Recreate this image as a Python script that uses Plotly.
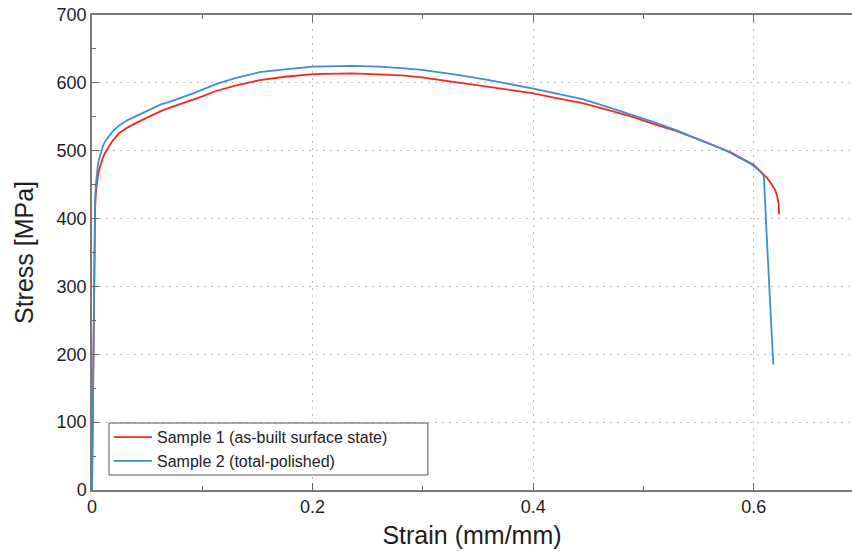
import plotly.graph_objects as go

# Engineering stress-strain data for two tensile specimens
strain_s1 = [0.0, 0.0008, 0.0016, 0.0022, 0.0028, 0.0035, 0.0045, 0.0055, 0.0068, 0.008,
             0.0095, 0.0115, 0.014, 0.018, 0.0244, 0.032, 0.04, 0.0475, 0.0548, 0.062,
             0.07, 0.0775, 0.085, 0.0925, 0.10, 0.1124, 0.13, 0.1519, 0.175, 0.20,
             0.235, 0.26, 0.2807, 0.299, 0.33, 0.35, 0.375, 0.399, 0.42, 0.4447,
             0.47, 0.49, 0.508, 0.53, 0.554, 0.58, 0.60, 0.6085, 0.612, 0.6155,
             0.619, 0.621, 0.6225, 0.623]
stress_s1 = [0, 150, 300, 380, 415, 438, 455, 465, 474, 481,
             488, 496, 503, 513, 526, 534, 541, 547, 553, 558,
             563, 567, 571, 575, 580, 588, 596, 604, 609, 613,
             614, 612.5, 611, 608, 601, 596, 591, 585, 578, 570,
             559, 550, 540, 529, 514, 497, 479, 466, 460, 452,
             443, 434, 422, 406]

strain_s2 = [0.0, 0.0008, 0.0016, 0.0022, 0.0028, 0.0035, 0.0045, 0.0055, 0.0068, 0.0084,
             0.010, 0.012, 0.015, 0.019, 0.0244, 0.032, 0.04, 0.0475, 0.0548, 0.062,
             0.07, 0.0775, 0.085, 0.0925, 0.10, 0.1124, 0.13, 0.1519, 0.175, 0.2004,
             0.2353, 0.26, 0.2807, 0.299, 0.33, 0.36, 0.399, 0.42, 0.4447, 0.47,
             0.49, 0.508, 0.53, 0.554, 0.575, 0.597, 0.604, 0.609, 0.6105, 0.6116,
             0.614, 0.6177]
stress_s2 = [0, 150, 300, 385, 425, 450, 470, 481, 490, 500,
             507, 514, 521, 529, 537, 545, 551, 557, 563, 568,
             572, 576, 580, 585, 590, 598, 607, 615.7, 620, 624,
             625, 624, 621.6, 619, 612, 604, 592, 585, 576, 563,
             553, 543, 530, 514, 500, 481, 472, 463, 420, 369,
             300, 185]

x_ticks = [0, 0.2, 0.4, 0.6]
x_tick_text = ["0", "0.2", "0.4", "0.6"]
y_ticks = [0, 100, 200, 300, 400, 500, 600, 700]

RED = "#f5291c"
BLUE = "#3d8fcf"
FONT = "Liberation Sans, Arial, sans-serif"

fig = go.Figure()
fig.add_trace(go.Scatter(x=strain_s1, y=stress_s1, mode="lines",
                         name="Sample 1 (as-built surface state)",
                         line=dict(color=RED, width=1.8)))
fig.add_trace(go.Scatter(x=strain_s2, y=stress_s2, mode="lines",
                         name="Sample 2 (total-polished)",
                         line=dict(color=BLUE, width=1.8)))

axis_common = dict(
    showline=True, linecolor="#7a7a7a", linewidth=1.5,
    showgrid=True, gridcolor="#c0c0c0", gridwidth=1, griddash="2px,5px",
    ticks="inside", ticklen=7, tickcolor="#666", tickwidth=1.2,
    tickfont=dict(family=FONT, size=18, color="#1e1e1e"),
    zeroline=False,
)

fig.update_xaxes(
    range=[0, 0.689], tickvals=x_ticks, ticktext=x_tick_text,
    mirror="ticks",
    minor=dict(dtick=0.1, tick0=0, ticks="inside", ticklen=4, tickcolor="#666", showgrid=False),
    title=dict(text="Strain (mm/mm)", font=dict(family=FONT, size=25, color="#1e1e1e"), standoff=10),
    **axis_common,
)
fig.update_yaxes(
    range=[0, 700], tickvals=y_ticks,
    minor=dict(dtick=50, tick0=0, ticks="inside", ticklen=4, tickcolor="#666", showgrid=False),
    title=dict(text="Stress [MPa]", font=dict(family=FONT, size=25, color="#1e1e1e"), standoff=16),
    **axis_common,
)

# Legend frame: a white box drawn behind the (frameless) legend entries
fig.add_shape(type="rect", xref="paper", yref="paper",
              x0=0.0224, x1=0.442, y0=0.0316, y1=0.141,
              fillcolor="white", line=dict(color="#555", width=1), layer="above")

fig.update_layout(
    width=852, height=551,
    margin=dict(l=92, r=0, t=15, b=61),
    paper_bgcolor="white", plot_bgcolor="white",
    font=dict(family=FONT),
    showlegend=True,
    legend=dict(
        x=0.0224, y=0.147, xanchor="left", yanchor="top",
        bgcolor="rgba(0,0,0,0)", borderwidth=0,
        font=dict(family=FONT, size=16, color="#222"),
        tracegroupgap=0, itemwidth=38,
    ),
)

fig.write_html("out.html")
